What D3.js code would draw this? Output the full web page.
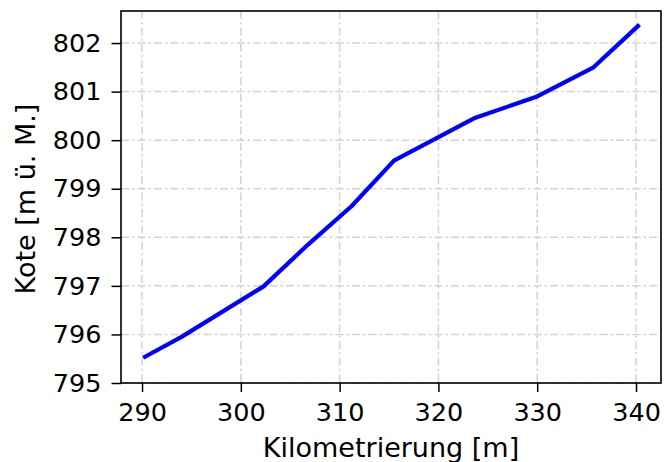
<!DOCTYPE html>
<html><head><meta charset="utf-8">
<script src="https://cdn.jsdelivr.net/npm/d3@7"></script>
<style>body{margin:0;background:#fff}svg{display:block}text{font-family:"DejaVu Sans",sans-serif;fill:#000}</style>
</head><body>
<svg id="c" width="670" height="462"></svg>
<script>
const km = [290.3, 294.0, 302.3, 306.8, 311.2, 315.5, 323.6, 330.0, 335.7, 340.2];
const kote = [795.54, 795.95, 796.99, 797.85, 798.64, 799.58, 800.45, 800.9, 801.5, 802.35];
const xTicks = [290, 300, 310, 320, 330, 340];
const yTicks = [795, 796, 797, 798, 799, 800, 801, 802];
const xLabel = "Kilometrierung [m]";
const yLabel = "Kote [m ü. M.]";

const L = 121, R = 661, T = 11, B = 383;
const svg = d3.select("#c");
const x = d3.scaleLinear().domain([287.87, 342.53]).range([L, R]);
const y = d3.scaleLinear().domain([795, 802.66]).range([B, T]);

// grid
const g = svg.append("g");
g.selectAll(".vx").data(xTicks).join("line")
  .attr("x1", d => x(d)).attr("x2", d => x(d)).attr("y1", T).attr("y2", B)
  .attr("stroke", "#d3d3d3").attr("stroke-width", 1.5).attr("stroke-dasharray", "8,3,2.5,3");
g.selectAll(".hy").data(yTicks).join("line")
  .attr("y1", d => y(d)).attr("y2", d => y(d)).attr("x1", L).attr("x2", R)
  .attr("stroke", "#d3d3d3").attr("stroke-width", 1.5).attr("stroke-dasharray", "8,3,2.5,3");

// line
const data = km.map((k, i) => [k, kote[i]]);
svg.append("path").datum(data)
  .attr("d", d3.line().x(d => x(d[0])).y(d => y(d[1])))
  .attr("fill", "none").attr("stroke", "#0000ff").attr("stroke-width", 4.2)
  .attr("stroke-linejoin", "round").attr("stroke-linecap", "square");

// axes
const xa = svg.append("g").attr("transform", `translate(0,${B})`)
  .call(d3.axisBottom(x).tickValues(xTicks).tickSize(9).tickPadding(11).tickFormat(d3.format("d")));
const ya = svg.append("g").attr("transform", `translate(${L},0)`)
  .call(d3.axisLeft(y).tickValues(yTicks).tickSize(9.5).tickPadding(10).tickFormat(d3.format("d")));
[xa, ya].forEach(a => {
  a.select(".domain").remove();
  a.selectAll(".tick line").attr("stroke", "#000").attr("stroke-width", 1.5);
  a.selectAll(".tick text").attr("font-size", 25.5).attr("font-family", "DejaVu Sans");
});

svg.append("rect").attr("x", L).attr("y", T).attr("width", R - L).attr("height", B - T)
  .attr("fill", "none").attr("stroke", "#000").attr("stroke-width", 1.6);

svg.append("text").attr("x", (L + R) / 2).attr("y", 456.5).attr("text-anchor", "middle")
  .attr("font-size", 27).text(xLabel);
svg.append("text").attr("transform", `translate(35,${(T + B) / 2 + 2}) rotate(-90)`)
  .attr("text-anchor", "middle").attr("font-size", 27).text(yLabel);
</script>
</body></html>
